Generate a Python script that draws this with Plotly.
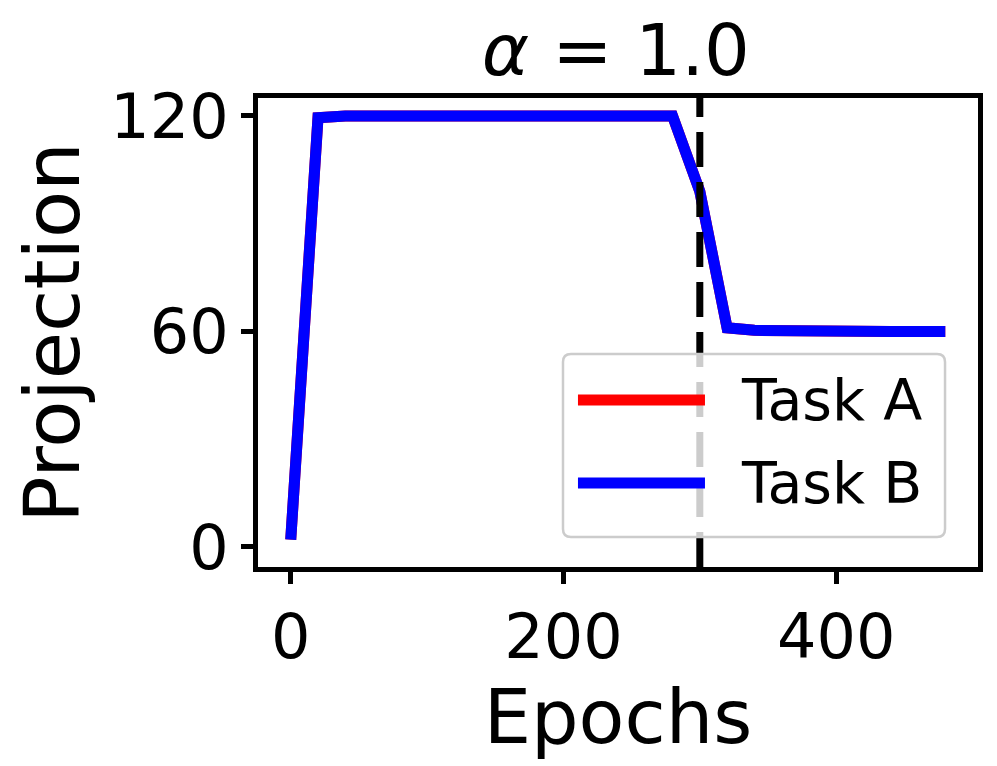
import plotly.graph_objects as go

# epochs sampled every 20
epochs = [0, 20, 40, 60, 80, 100, 120, 140, 160, 180, 200, 220, 240,
          260, 280, 300, 320, 340, 360, 380, 400, 420, 440, 460, 480]
task_b = [2, 119.5, 120, 120, 120, 120, 120, 120, 120, 120, 120, 120, 120,
          120, 120, 99, 61, 60.3, 60.1, 60, 60, 60, 60, 60, 60]
task_a = list(task_b)  # sits exactly under task B
switch_epoch = 300
x_ticks = [0, 200, 400]
y_ticks = [0, 60, 120]

FONT = "DejaVu Sans"
series = [("Task A", task_a, "#ff0000"), ("Task B", task_b, "#0000ff")]

fig = go.Figure()
for name, vals, color in series:
    fig.add_trace(go.Scatter(x=epochs, y=vals, mode="lines", name=name, showlegend=False,
                             line=dict(color=color, width=11)))

# task switch marker
fig.add_shape(type="line", x0=switch_epoch, x1=switch_epoch, y0=0, y1=1,
              xref="x", yref="paper", layer="above",
              line=dict(color="black", width=7, dash="35px,15px"))

# matplotlib-style legend box (long line samples)
x0, x1, y0, y1 = 0.4236, 0.9542, 0.064, 0.4542
rx, ry = 0.0111, 0.0171
box = (f"M {x0+rx},{y0} L {x1-rx},{y0} Q {x1},{y0} {x1},{y0+ry} "
       f"L {x1},{y1-ry} Q {x1},{y1} {x1-rx},{y1} L {x0+rx},{y1} "
       f"Q {x0},{y1} {x0},{y1-ry} L {x0},{y0+ry} Q {x0},{y0} {x0+rx},{y0} Z")
fig.add_shape(type="path", path=box, xref="paper", yref="paper", layer="above",
              fillcolor="rgba(255,255,255,0.8)", line=dict(color="#cccccc", width=2.5))
for (name, _, color), ly in zip(series, [0.356, 0.179]):
    fig.add_shape(type="line", x0=0.4444, x1=0.6208, y0=ly, y1=ly,
                  xref="paper", yref="paper", layer="above",
                  line=dict(color=color, width=11))
    fig.add_annotation(x=0.668, y=ly, xref="paper", yref="paper", text=name,
                       showarrow=False, xanchor="left", yanchor="middle",
                       font=dict(family=FONT, size=57, color="black"))

axis_common = dict(showline=True, linecolor="black", linewidth=5, mirror=True,
                   ticks="outside", ticklen=12, tickwidth=5, tickcolor="black",
                   showgrid=False, zeroline=False, automargin=False,
                   tickfont=dict(family=FONT, size=62, color="black"))

# page has an 8px body margin, so the figure is sized to end at the window edge
fig.update_layout(
    width=989, height=758,
    paper_bgcolor="white", plot_bgcolor="white",
    margin=dict(l=250, r=19, t=90, b=199),
    font=dict(family=FONT, color="black"),
    title=dict(text="<i>α</i> = 1.0", xref="paper", x=0.497, xanchor="center",
               y=0.978, yanchor="top",
               font=dict(family=FONT, size=72, color="black")),
    xaxis=dict(range=[-24, 504], tickvals=x_ticks,
               title=dict(text="Epochs", font=dict(family=FONT, size=75), standoff=2),
               **axis_common),
    yaxis=dict(range=[-5.6, 125], tickvals=y_ticks,
               title=dict(text="Projection", font=dict(family=FONT, size=77), standoff=14),
               **axis_common),
    showlegend=False,
)

fig.write_html("out.html")
